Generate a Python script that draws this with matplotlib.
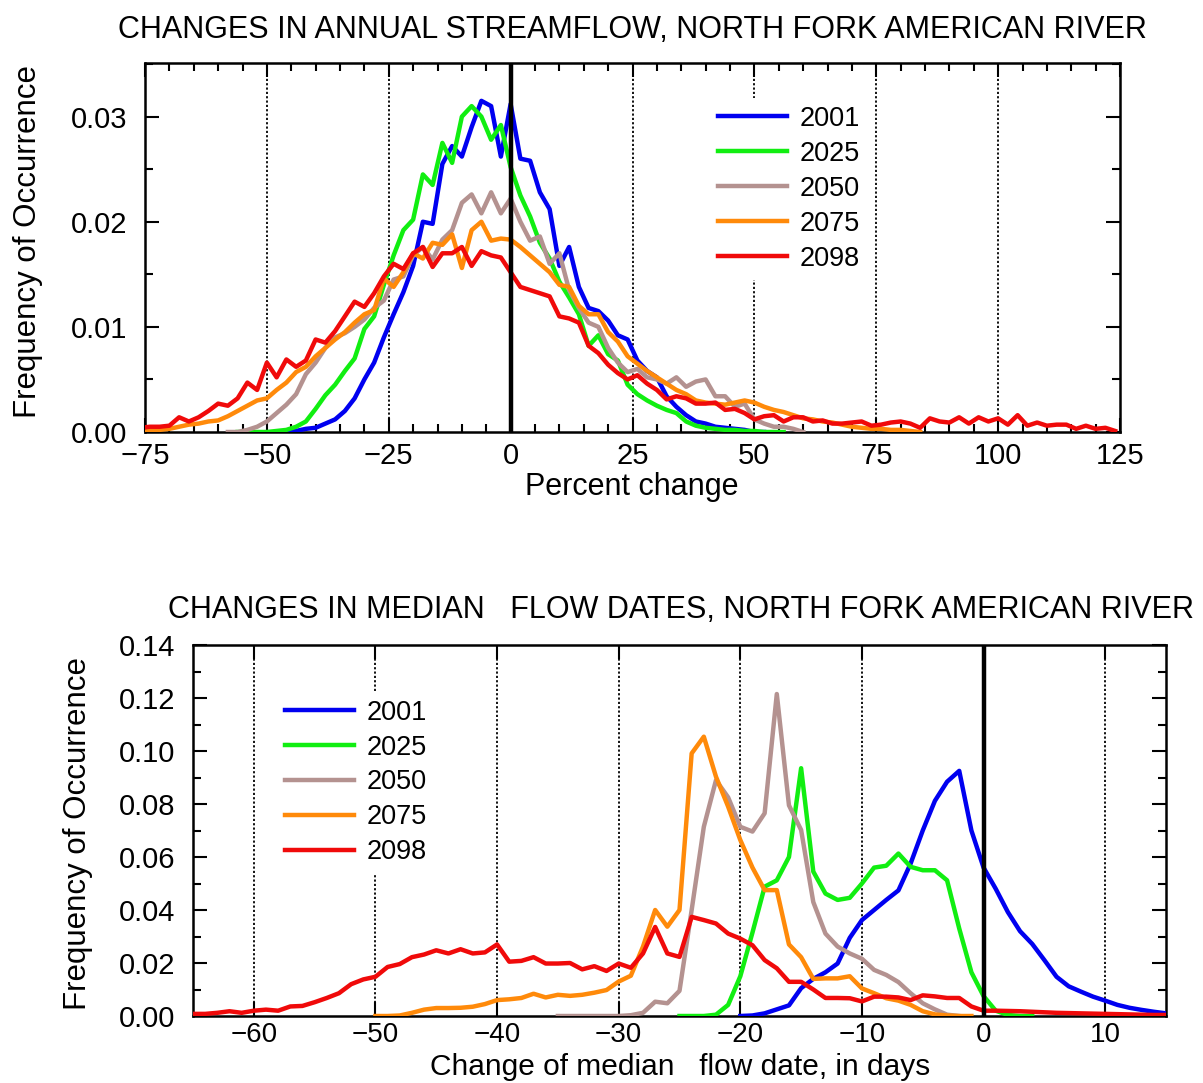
import numpy as np
import matplotlib
matplotlib.use("Agg")
import matplotlib.pyplot as plt
from matplotlib.ticker import MultipleLocator, FormatStrFormatter

plt.rcParams['font.family'] = ['Liberation Sans', 'DejaVu Sans']

years = ['2001', '2025', '2050', '2075', '2098']
colors = ['#0000f0', '#11ee11', '#b49290', '#ff8a0a', '#f00a0a']

# --- annual streamflow, percent change (2% bins) ---
flow_x_2001 = np.arange(-46, 53, 2)
flow_y_2001 = [0.0000, 0.0001, 0.0003, 0.0004, 0.0008, 0.0012, 0.0020, 0.0032, 0.0050, 0.0066,
               0.0090, 0.0112, 0.0133, 0.0158, 0.0200, 0.0198, 0.0255, 0.0272, 0.0262, 0.0290,
               0.0315, 0.0310, 0.0262, 0.0312, 0.0260, 0.0258, 0.0228, 0.0212, 0.0158, 0.0176,
               0.0138, 0.0118, 0.0115, 0.0106, 0.0092, 0.0088, 0.0068, 0.0058, 0.0052, 0.0034,
               0.0024, 0.0016, 0.0010, 0.0008, 0.0005, 0.0004, 0.0003, 0.0002, 0.0000, 0.0000]

flow_x_2025 = np.arange(-56, 57, 2)
flow_y_2025 = [0.0000, 0.0000, 0.0000, 0.0000, 0.0001, 0.0002, 0.0005, 0.0010, 0.0022, 0.0035,
               0.0045, 0.0058, 0.0070, 0.0098, 0.0110, 0.0140, 0.0168, 0.0192, 0.0202, 0.0245,
               0.0235, 0.0275, 0.0256, 0.0300, 0.0310, 0.0300, 0.0278, 0.0292, 0.0252, 0.0225,
               0.0205, 0.0180, 0.0165, 0.0143, 0.0128, 0.0112, 0.0082, 0.0092, 0.0074, 0.0068,
               0.0045, 0.0036, 0.0030, 0.0025, 0.0021, 0.0018, 0.0010, 0.0006, 0.0004, 0.0003,
               0.0002, 0.0002, 0.0001, 0.0001, 0.0000, 0.0000, 0.0000]

flow_x_2050 = np.arange(-58, 61, 2)
flow_y_2050 = [0.0000, 0.0000, 0.0002, 0.0005, 0.0010, 0.0018, 0.0026, 0.0036, 0.0055, 0.0066,
               0.0080, 0.0090, 0.0094, 0.0100, 0.0107, 0.0118, 0.0125, 0.0145, 0.0148, 0.0168,
               0.0176, 0.0164, 0.0183, 0.0192, 0.0218, 0.0226, 0.0208, 0.0228, 0.0208, 0.0222,
               0.0200, 0.0182, 0.0186, 0.0160, 0.0170, 0.0135, 0.0118, 0.0104, 0.0100, 0.0080,
               0.0066, 0.0057, 0.0060, 0.0052, 0.0050, 0.0046, 0.0052, 0.0043, 0.0048, 0.0050,
               0.0034, 0.0034, 0.0024, 0.0027, 0.0012, 0.0008, 0.0005, 0.0005, 0.0003, 0.0000]

flow_x_2075 = np.arange(-76, 85, 2)
flow_y_2075 = [0.0000, 0.0001, 0.0002, 0.0003, 0.0005, 0.0007, 0.0008, 0.0010, 0.0011, 0.0015,
               0.0020, 0.0025, 0.0030, 0.0032, 0.0040, 0.0047, 0.0057, 0.0062, 0.0072, 0.0080,
               0.0088, 0.0095, 0.0104, 0.0112, 0.0116, 0.0146, 0.0138, 0.0152, 0.0170, 0.0165,
               0.0180, 0.0178, 0.0188, 0.0156, 0.0192, 0.0200, 0.0182, 0.0184, 0.0183, 0.0176,
               0.0168, 0.0160, 0.0152, 0.0140, 0.0138, 0.0120, 0.0112, 0.0112, 0.0095, 0.0086,
               0.0072, 0.0065, 0.0058, 0.0052, 0.0046, 0.0040, 0.0036, 0.0030, 0.0028, 0.0027,
               0.0026, 0.0028, 0.0030, 0.0028, 0.0024, 0.0021, 0.0019, 0.0016, 0.0013, 0.0012,
               0.0010, 0.0009, 0.0007, 0.0005, 0.0004, 0.0003, 0.0003, 0.0002, 0.0002, 0.0001,
               0.0000]

flow_x_2098 = np.arange(-76, 125, 2)
flow_y_2098 = [0.0004, 0.0005, 0.0005, 0.0006, 0.0014, 0.0010, 0.0014, 0.0020, 0.0027, 0.0025,
               0.0032, 0.0047, 0.0040, 0.0066, 0.0052, 0.0069, 0.0062, 0.0068, 0.0088, 0.0085,
               0.0096, 0.0110, 0.0124, 0.0119, 0.0132, 0.0148, 0.0160, 0.0155, 0.0170, 0.0176,
               0.0157, 0.0170, 0.0170, 0.0176, 0.0158, 0.0172, 0.0168, 0.0166, 0.0152, 0.0138,
               0.0135, 0.0132, 0.0129, 0.0110, 0.0108, 0.0104, 0.0082, 0.0075, 0.0064, 0.0056,
               0.0050, 0.0054, 0.0046, 0.0040, 0.0031, 0.0034, 0.0032, 0.0027, 0.0027, 0.0028,
               0.0021, 0.0022, 0.0018, 0.0012, 0.0015, 0.0016, 0.0010, 0.0014, 0.0014, 0.0010,
               0.0011, 0.0008, 0.0008, 0.0009, 0.0010, 0.0006, 0.0007, 0.0009, 0.0010, 0.0008,
               0.0004, 0.0013, 0.0010, 0.0009, 0.0014, 0.0008, 0.0014, 0.0010, 0.0013, 0.0007,
               0.0016, 0.0006, 0.0009, 0.0006, 0.0007, 0.0007, 0.0003, 0.0006, 0.0003, 0.0004,
               0.0001]

# --- median flow date, change in days ---
date_x_2001 = np.arange(-20, 16)
date_y_2001 = [0.0000, 0.0002, 0.0010, 0.0025, 0.0040, 0.0105, 0.0140, 0.0165, 0.0198, 0.0295,
               0.0362, 0.0400, 0.0438, 0.0474, 0.0575, 0.0700, 0.0812, 0.0884, 0.0925, 0.0700,
               0.0560, 0.0480, 0.0392, 0.0320, 0.0272, 0.0211, 0.0148, 0.0112, 0.0092, 0.0073,
               0.0058, 0.0042, 0.0031, 0.0023, 0.0016, 0.0010]

date_x_2025 = np.arange(-25, 5)
date_y_2025 = [0.0000, 0.0000, 0.0000, 0.0005, 0.0042, 0.0150, 0.0315, 0.0488, 0.0512, 0.0600,
               0.0935, 0.0545, 0.0462, 0.0438, 0.0446, 0.0500, 0.0560, 0.0567, 0.0613, 0.0563,
               0.0550, 0.0550, 0.0512, 0.0330, 0.0165, 0.0075, 0.0020, 0.0004, 0.0000, 0.0000]

date_x_2050 = np.arange(-35, -1)
date_y_2050 = [0.0000, 0.0000, 0.0000, 0.0000, 0.0000, 0.0000, 0.0003, 0.0012, 0.0054, 0.0048,
               0.0095, 0.0400, 0.0714, 0.0890, 0.0825, 0.0714, 0.0696, 0.0765, 0.1215, 0.0795,
               0.0702, 0.0430, 0.0311, 0.0262, 0.0236, 0.0216, 0.0174, 0.0155, 0.0128, 0.0086,
               0.0048, 0.0025, 0.0005, 0.0000]

date_x_2075 = np.arange(-50, 0)
date_y_2075 = [0.0000, 0.0000, 0.0002, 0.0012, 0.0024, 0.0030, 0.0030, 0.0031, 0.0035, 0.0045,
               0.0060, 0.0063, 0.0068, 0.0084, 0.0070, 0.0080, 0.0076, 0.0080, 0.0088, 0.0098,
               0.0130, 0.0152, 0.0262, 0.0400, 0.0337, 0.0400, 0.0991, 0.1054, 0.0903, 0.0790,
               0.0664, 0.0560, 0.0475, 0.0475, 0.0270, 0.0222, 0.0140, 0.0142, 0.0142, 0.0150,
               0.0104, 0.0086, 0.0067, 0.0058, 0.0042, 0.0018, 0.0006, 0.0002, 0.0000, 0.0000]

date_x_2098 = np.arange(-65, 16)
date_y_2098 = [0.0008, 0.0008, 0.0012, 0.0018, 0.0012, 0.0020, 0.0024, 0.0020, 0.0036, 0.0038,
               0.0052, 0.0068, 0.0086, 0.0120, 0.0138, 0.0148, 0.0185, 0.0196, 0.0222, 0.0232,
               0.0248, 0.0236, 0.0252, 0.0236, 0.0240, 0.0270, 0.0205, 0.0208, 0.0222, 0.0198,
               0.0198, 0.0200, 0.0176, 0.0188, 0.0170, 0.0198, 0.0182, 0.0236, 0.0336, 0.0236,
               0.0223, 0.0374, 0.0362, 0.0349, 0.0311, 0.0292, 0.0267, 0.0211, 0.0180, 0.0129,
               0.0129, 0.0100, 0.0068, 0.0068, 0.0067, 0.0055, 0.0073, 0.0073, 0.0070, 0.0060,
               0.0078, 0.0074, 0.0068, 0.0068, 0.0036, 0.0020, 0.0020, 0.0019, 0.0018, 0.0016,
               0.0014, 0.0012, 0.0011, 0.0010, 0.0009, 0.0008, 0.0007, 0.0006, 0.0005, 0.0004,
               0.0004]

flow_series = [(flow_x_2001, flow_y_2001), (flow_x_2025, flow_y_2025), (flow_x_2050, flow_y_2050),
               (flow_x_2075, flow_y_2075), (flow_x_2098, flow_y_2098)]
date_series = [(date_x_2001, date_y_2001), (date_x_2025, date_y_2025), (date_x_2050, date_y_2050),
               (date_x_2075, date_y_2075), (date_x_2098, date_y_2098)]

fig = plt.figure(figsize=(12.03, 10.83), dpi=100)
W, H = 1203.0, 1083.0


def style_axes(ax, major_x, minor_x, minor_y, xpad):
    ax.xaxis.set_major_locator(MultipleLocator(major_x))
    if minor_x:
        ax.xaxis.set_minor_locator(MultipleLocator(minor_x))
    ax.yaxis.set_minor_locator(MultipleLocator(minor_y))
    ax.yaxis.set_major_formatter(FormatStrFormatter('%.2f'))
    ax.tick_params(which='both', direction='in', top=True, right=True, labelsize=21, width=1.5)
    ax.tick_params(which='major', length=10)
    ax.tick_params(which='minor', length=6)
    ax.tick_params(axis='x', which='major', pad=xpad)
    ax.tick_params(axis='y', which='major', pad=13)
    for s in ax.spines.values():
        s.set_linewidth(1.8)


def grid_lines(ax, xs):
    for v in xs:
        if v == 0:
            ax.axvline(0, color='black', lw=3.2, zorder=5)
        else:
            ax.axvline(v, color='black', lw=1.3, ls=(0, (1.2, 1.2)), zorder=1)


legend_kw = dict(loc='upper left', fontsize=19.5, frameon=True, facecolor='white',
                 edgecolor='none', framealpha=1, handlelength=2.55, handletextpad=0.45,
                 labelspacing=0.33, borderpad=0.3, borderaxespad=0)

# ---------- top panel ----------
ax1 = fig.add_axes([145 / W, 1 - 432 / H, 975 / W, 369 / H])
grid_lines(ax1, [-50, -25, 0, 25, 50, 75, 100])
for (x, y), c, lab in zip(flow_series, colors, years):
    ax1.plot(x, y, color=c, lw=3.2, label=lab, zorder=3)
ax1.set_xlim(-75, 125)
ax1.set_ylim(0, 0.0351)
ax1.set_yticks([0, 0.01, 0.02, 0.03])
style_axes(ax1, 25, 5, 0.005, 7)
leg1 = ax1.legend(bbox_to_anchor=(0.5795, 0.906), **legend_kw)
leg1.set_zorder(6)

fig.text(632 / W, 1 - 30 / H, 'CHANGES IN ANNUAL STREAMFLOW, NORTH FORK AMERICAN RIVER',
         ha='center', va='center', fontsize=22)
fig.text(632 / W, 1 - 487 / H, 'Percent change', ha='center', va='center', fontsize=22)
fig.text(28 / W, 1 - 242 / H, 'Frequency of Occurrence', ha='center', va='center',
         rotation=90, fontsize=22.5)

# ---------- bottom panel ----------
ax2 = fig.add_axes([193 / W, 1 - 1016 / H, 973 / W, 371 / H])
grid_lines(ax2, [-60, -50, -40, -30, -20, -10, 0, 10])
for (x, y), c, lab in zip(date_series, colors, years):
    ax2.plot(x, y, color=c, lw=3.2, label=lab, zorder=3)
ax2.set_xlim(-65, 15)
ax2.set_ylim(0, 0.14)
ax2.set_yticks(np.arange(0, 0.141, 0.02))
style_axes(ax2, 10, None, 0.01, 4)
ax2.tick_params(axis='x', labelsize=20)
leg2 = ax2.legend(bbox_to_anchor=(0.0863, 0.8747), **legend_kw)
leg2.set_zorder(6)

fig.text(681 / W, 1 - 610 / H, 'CHANGES IN MEDIAN   FLOW DATES, NORTH FORK AMERICAN RIVER',
         ha='center', va='center', fontsize=22)
fig.text(680 / W, 1 - 1081 / H, 'Change of median   flow date, in days', ha='center',
         va='bottom', fontsize=21.5)
fig.text(78 / W, 1 - 834 / H, 'Frequency of Occurrence', ha='center', va='center',
         rotation=90, fontsize=22.5)

fig.savefig('out.png', dpi=100)
